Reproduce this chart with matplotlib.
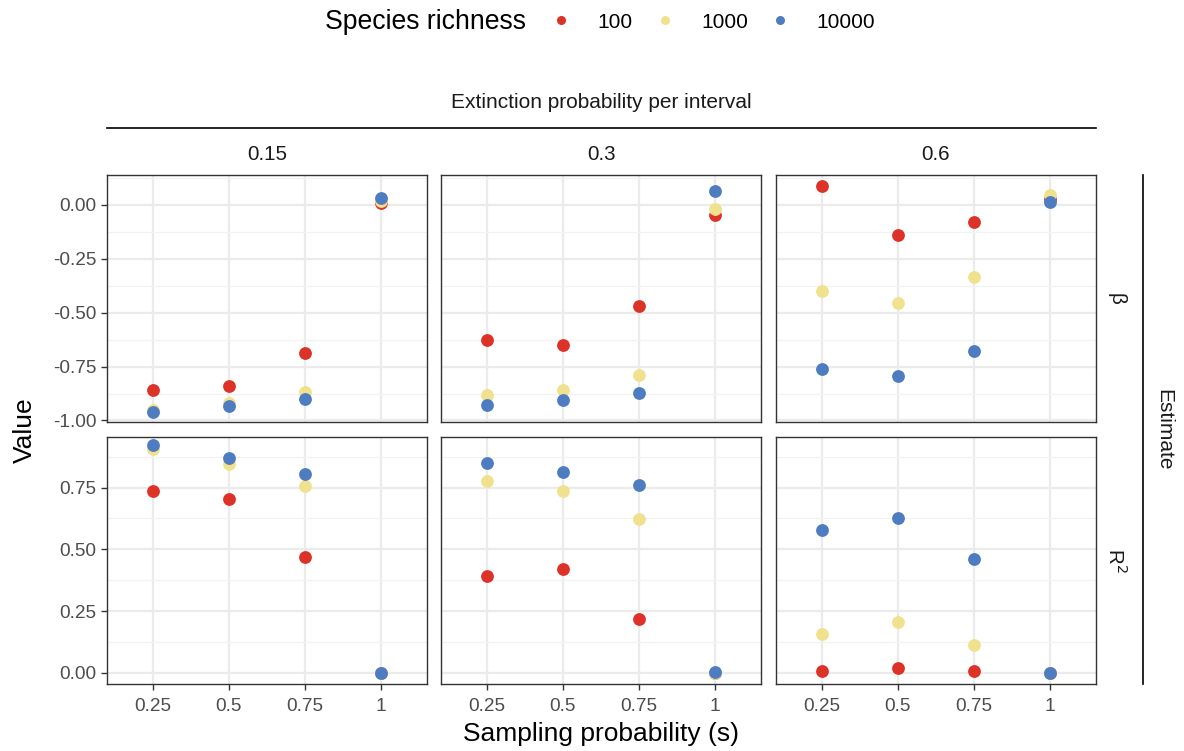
import matplotlib
matplotlib.use("Agg")
import matplotlib.pyplot as plt
from matplotlib.lines import Line2D
from matplotlib.ticker import MultipleLocator

plt.rcParams["font.family"] = ["Liberation Sans", "DejaVu Sans"]

sampling = ["0.25", "0.5", "0.75", "1"]
extinction = ["0.15", "0.3", "0.6"]
richness = ["100", "1000", "10000"]
colors = {"100": "#DC3228", "1000": "#F0E18E", "10000": "#4E7CC0"}

# beta estimates: [extinction][richness] -> values over sampling
beta = {
    "0.15": {"100": [-0.860, -0.842, -0.687, 0.009],
             "1000": [-0.953, -0.918, -0.870, 0.017],
             "10000": [-0.961, -0.935, -0.901, 0.029]},
    "0.3": {"100": [-0.628, -0.651, -0.470, -0.047],
            "1000": [-0.882, -0.859, -0.791, -0.022],
            "10000": [-0.926, -0.906, -0.874, 0.062]},
    "0.6": {"100": [0.087, -0.141, -0.079, 0.028],
            "1000": [-0.400, -0.454, -0.337, 0.045],
            "10000": [-0.761, -0.794, -0.679, 0.012]},
}
r2 = {
    "0.15": {"100": [0.736, 0.704, 0.468, 0.0],
             "1000": [0.905, 0.844, 0.756, 0.0],
             "10000": [0.922, 0.869, 0.807, 0.0]},
    "0.3": {"100": [0.392, 0.422, 0.218, 0.0],
            "1000": [0.776, 0.735, 0.622, 0.0],
            "10000": [0.850, 0.813, 0.761, 0.004]},
    "0.6": {"100": [0.009, 0.019, 0.008, 0.0],
            "1000": [0.159, 0.204, 0.112, 0.0],
            "10000": [0.577, 0.626, 0.459, 0.0]},
}
rows = [("β", beta, (-1.007, 0.137)), ("R$^2$", r2, (-0.0455, 0.955))]

W, H = 1184, 751
fig = plt.figure(figsize=(W / 100, H / 100), dpi=100)

col_x = [(107, 427), (441, 761), (776, 1096)]
row_y = [(175, 422), (437, 684)]


def fbox(x0, x1, y0, y1):
    return [x0 / W, 1 - y1 / H, (x1 - x0) / W, (y1 - y0) / H]


for r, (rlab, data, ylim) in enumerate(rows):
    for c, ext in enumerate(extinction):
        ax = fig.add_axes(fbox(*col_x[c], *row_y[r]))
        xs = list(range(len(sampling)))
        for rich in richness:
            ax.scatter(xs, data[ext][rich], s=85, color=colors[rich],
                       linewidths=0, zorder=3)
        ax.set_xlim(-0.6, len(sampling) - 0.4)
        ax.set_ylim(*ylim)
        ax.set_xticks(xs)
        ax.yaxis.set_major_locator(MultipleLocator(0.25))
        ax.yaxis.set_minor_locator(MultipleLocator(0.125))
        ax.grid(True, which="major", color="#EBEBEB", lw=1.6)
        ax.grid(True, which="minor", axis="y", color="#F2F2F2", lw=0.9)
        ax.set_axisbelow(True)
        for sp in ax.spines.values():
            sp.set_color("#333333")
            sp.set_linewidth(1.0)
        ax.tick_params(which="minor", left=False)
        ax.tick_params(which="major", color="#333333", length=4, width=1,
                       labelsize=13.7, labelcolor="#4D4D4D")
        ax.tick_params(axis="x", pad=6)
        if r == len(rows) - 1:
            ax.set_xticklabels(sampling)
        else:
            ax.tick_params(axis="x", bottom=False, labelbottom=False)
        if c == 0:
            ax.set_yticklabels([f"{v:.2f}" for v in ax.get_yticks()])
        else:
            ax.tick_params(axis="y", left=False, labelleft=False)
        if r == 0:
            fig.text(sum(col_x[c]) / 2 / W, 1 - 155 / H, ext, ha="center",
                     va="center", fontsize=14.8, color="#1A1A1A")
    fig.text(1116 / W, 1 - sum(row_y[r]) / 2 / H, rlab, rotation=-90,
             ha="center", va="center", fontsize=14.8, color="#1A1A1A")

# nested strips
fig.add_artist(Line2D([107 / W, 1096 / W], [1 - 128 / H, 1 - 128 / H],
                      color="black", lw=1.2))
fig.text(601 / W, 1 - 103 / H, "Extinction probability per interval",
         ha="center", va="center", fontsize=15, color="#1A1A1A")
fig.add_artist(Line2D([1143 / W, 1143 / W], [1 - 175 / H, 1 - 684 / H],
                      color="black", lw=1.2))
fig.text(1164 / W, 1 - 430 / H, "Estimate", rotation=-90, ha="center",
         va="center", fontsize=15, color="#1A1A1A")

# axis titles
fig.text(25 / W, 1 - 430 / H, "Value", rotation=90, ha="center",
         va="center", fontsize=19)
fig.text(601 / W, 1 - 734 / H, "Sampling probability (s)", ha="center",
         va="center", fontsize=19)

# legend
fig.text(325 / W, 1 - 22 / H, "Species richness", ha="left", va="center",
         fontsize=19.2)
handles = [Line2D([], [], ls="", marker="o", ms=6.5, color=colors[k],
                  markeredgewidth=0) for k in richness]
fig.legend(handles, richness, ncol=3, loc="center left",
           bbox_to_anchor=(551 / W, 1 - 22 / H), frameon=False,
           fontsize=15, handletextpad=1.23, columnspacing=1.05,
           handlelength=1.0, borderaxespad=0, borderpad=0)

fig.savefig("out.png", dpi=100, facecolor="white")
